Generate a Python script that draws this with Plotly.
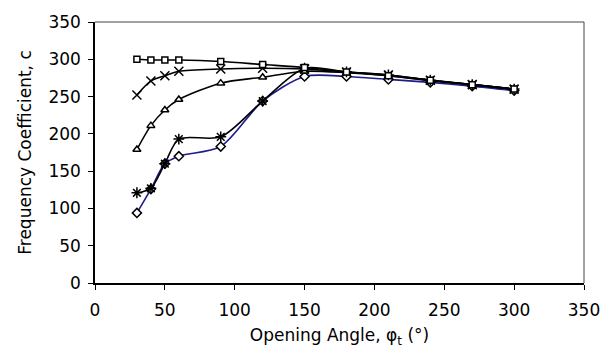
import plotly.graph_objects as go

angles = [30, 40, 50, 60, 90, 120, 150, 180, 210, 240, 270, 300]

squares = [300, 299, 299, 299, 297, 293, 289, 283, 278, 272, 266, 260]
crosses = [252, 271, 278, 284, 287, 288, 287, 283, 279, 272, 266, 260]
triangles = [179, 211, 232, 246, 268, 276, 284, 282, 278, 271, 266, 260]
stars = [121, 127, 160, 193, 196, 244, 288, 283, 279, 272, 266, 260]
diamonds = [94, 126, 160, 170, 183, 244, 277, 277, 273, 269, 264, 258]

xticks = [0, 50, 100, 150, 200, 250, 300, 350]
yticks = [0, 50, 100, 150, 200, 250, 300, 350]

FONT = "DejaVu Sans, Arial, sans-serif"

fig = go.Figure()

series = [
    (diamonds, "diamond", "white", "#1c1c8a", 7),
    (stars, "asterisk", "black", "black", 9),
    (triangles, "triangle-up", "white", "black", 7),
    (crosses, "x-thin", "black", "black", 9),
    (squares, "square", "white", "black", 6),
]

for vals, sym, fill, lc, ms in series:
    fig.add_trace(go.Scatter(
        x=angles, y=vals, mode="lines+markers",
        line=dict(color=lc, width=1.6, shape="spline", smoothing=0.8),
        marker=dict(symbol=sym, size=ms, color=fill,
                    line=dict(color="black", width=1.5)),
        showlegend=False,
    ))

fig.update_layout(
    width=612, height=357,
    margin=dict(l=95, r=21, t=14, b=74),
    paper_bgcolor="white", plot_bgcolor="white",
    font=dict(family=FONT, size=17, color="black"),
    xaxis=dict(
        range=[0, 350], tickvals=xticks, ticktext=[str(t) for t in xticks],
        showgrid=False, zeroline=False, showline=True, linecolor="black",
        linewidth=1.5, ticks="outside", ticklen=5, tickwidth=1, tickcolor="black",
        ticklabelstandoff=6,
        title=dict(text="Opening Angle, φ<sub>t</sub> (°)", font=dict(size=17), standoff=10),
    ),
    yaxis=dict(
        range=[0, 350], tickvals=yticks, ticktext=[str(t) for t in yticks],
        showgrid=False, zeroline=False, showline=True, linecolor="black",
        linewidth=1.5, ticks="outside", ticklen=5, tickwidth=1, tickcolor="black",
        ticklabelstandoff=4,
        title=dict(text="Frequency Coefficient, c", font=dict(size=17), standoff=12),
    ),
    shapes=[
        dict(type="line", xref="paper", yref="paper", x0=0, x1=1, y0=1, y1=1,
             line=dict(color="#444", width=1)),
        dict(type="line", xref="paper", yref="paper", x0=1, x1=1, y0=0, y1=1,
             line=dict(color="#444", width=1)),
    ],
)

fig.write_html("out.html")
